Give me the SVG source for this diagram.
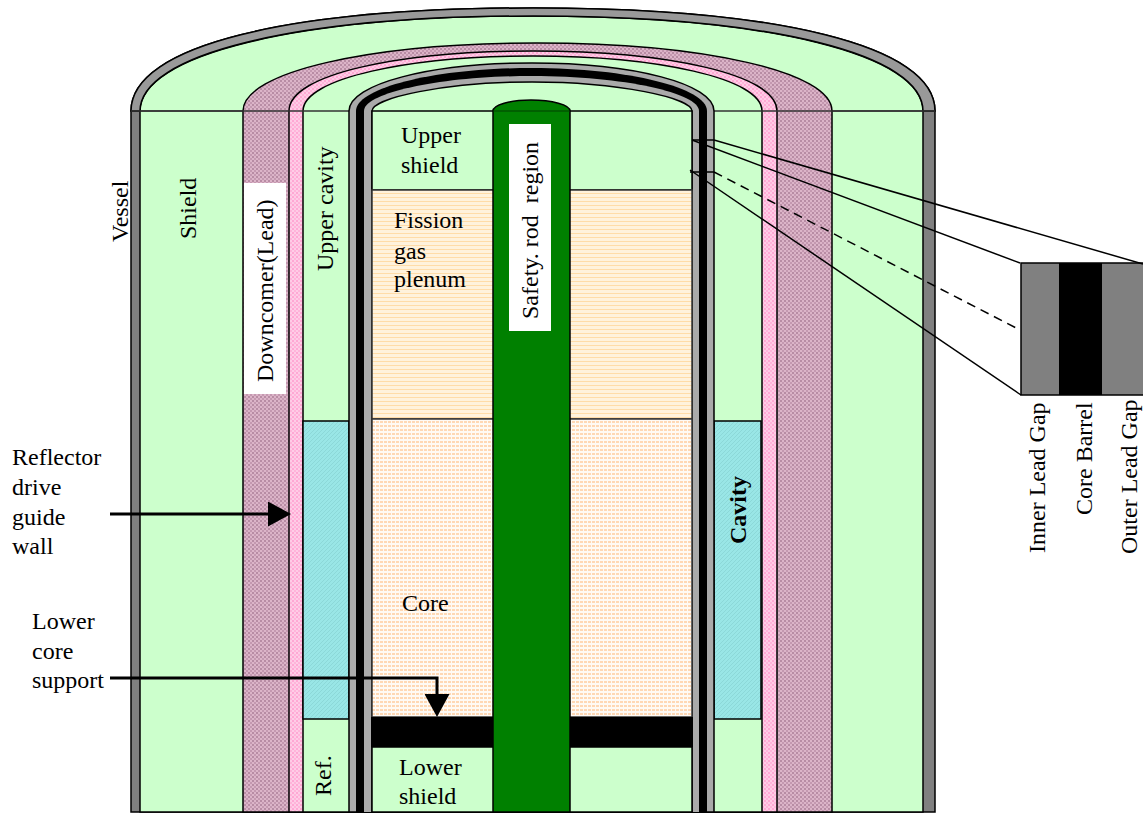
<svg xmlns="http://www.w3.org/2000/svg" width="1143" height="825" viewBox="0 0 1143 825">
<style>
text{font-family:"Liberation Serif","Times New Roman",serif;font-size:24px;fill:#000}
.s{stroke:#000;stroke-width:1.5}
.t{stroke:#333;stroke-width:1.5}
.l{stroke:#000;stroke-width:1.5;fill:none}
.ar{stroke:#000;stroke-width:3;fill:none}
</style>
<defs>
<pattern id="purple" width="4" height="4" patternUnits="userSpaceOnUse"><rect width="4" height="4" fill="#dcb4c8"/><rect width="2" height="2" fill="#b88ca4"/><rect x="2" y="2" width="2" height="2" fill="#c498b0"/></pattern>
<pattern id="pink" width="4" height="4" patternUnits="userSpaceOnUse"><rect width="4" height="4" fill="#ffcce6"/><rect width="2" height="2" fill="#ffa8d4"/><rect x="2" y="2" width="2" height="2" fill="#ffb4da"/></pattern>
<pattern id="plenum" width="4" height="4" patternUnits="userSpaceOnUse"><rect width="4" height="4" fill="#fff2dc"/><rect y="1" width="4" height="1" fill="#ffdca8"/></pattern>
<pattern id="core" width="4" height="4" patternUnits="userSpaceOnUse"><rect width="4" height="4" fill="#fffaf4"/><rect y="1" width="3" height="2" fill="#ffd8b4"/></pattern>
<pattern id="cyan" width="4" height="4" patternUnits="userSpaceOnUse"><rect width="4" height="4" fill="#99e6e6"/><path d="M0 4L4 0" stroke="#8cd8d8" stroke-width="1"/></pattern>
<marker id="head" markerUnits="userSpaceOnUse" markerWidth="24" markerHeight="25" refX="0" refY="12.5" orient="auto"><path d="M0 0L23 12.5L0 25Z" fill="#000"/></marker>
</defs>
<g id="vessel">
<path class="s" fill="#808080" d="M131 111C131 45 290 8 533 8S935 45 935 111V812H131Z"/>
<path class="s" fill="#ccffcc" d="M140 111C140 55 295 16 533 16S923 55 923 111V812H140Z"/>
<path d="M131 111H935" class="t" fill="none"/>
<path fill="#999" stroke="#000" stroke-width="1.5" d="M131 111C131 45 290 8 533 8S935 45 935 111H923C923 55 775 16 533 16S140 55 140 111Z"/>
</g>
<g id="downcomer">
<path class="s" fill="url(#purple)" d="M243 111C243 72 370 43 537 43S832 72 832 111V812H243Z"/>
</g>
<g id="guide-wall">
<path class="s" fill="url(#pink)" d="M289 111C289 74 400 51 533 51S777 74 777 111V812H289Z"/>
</g>
<g id="cavity-region">
<path class="s" fill="#ccffcc" d="M303 111C303 78 410 56 533 56S762 78 762 111V812H303Z"/>
<rect class="s" fill="url(#cyan)" x="303" y="421" width="46" height="298"/>
<rect class="s" fill="url(#cyan)" x="714" y="421" width="47" height="298"/>
<path class="t" d="M131 111H935" fill="none"/>
</g>
<g id="barrel">
<path class="s" fill="#aaa" d="M349 111C349 84 430 63 532 63S714 84 714 111V812H349Z"/>
<path fill="#000" d="M356 111C356 88 435 68 532 68S707 88 707 111V812H356Z"/>
<path fill="#aaa" d="M364 111C364 93 440 76 532 76S699 93 699 111V812H364Z"/>
<path class="s" fill="#ccffcc" d="M372 111C372 98 445 82 532 82S692 98 692 111V812H372Z"/>
</g>
<g id="interior">
<rect class="s" fill="#ccffcc" x="372" y="111" width="320" height="79"/>
<rect class="t" fill="url(#plenum)" x="372" y="190" width="320" height="229"/>
<rect class="t" fill="url(#core)" x="372" y="419" width="320" height="298"/>
<rect fill="#000" x="371" y="717" width="322" height="30"/>
<rect class="s" fill="#ccffcc" x="372" y="747" width="320" height="65"/>
</g>
<g id="safety-rod">
<path class="s" fill="#008000" d="M493 111C493 105 510 100 531 100S570 105 570 111V812H493Z"/>
<path d="M493 111H570" stroke="#004000" stroke-width="1"/>
<rect fill="#fff" x="509" y="124" width="42" height="207"/>
<text transform="translate(538 319) rotate(-90)" xml:space="preserve">Safety. rod  region</text>
</g>
<g id="labels">
<rect fill="#fff" x="244" y="183" width="42" height="211"/>
<text transform="translate(128 242) rotate(-90)">Vessel</text>
<text transform="translate(196 239) rotate(-90)">Shield</text>
<text transform="translate(273 382) rotate(-90)">Downcomer(Lead)</text>
<text transform="translate(333 271) rotate(-90)">Upper cavity</text>
<text transform="translate(331 796) rotate(-90)">Ref.</text>
<text transform="translate(746 544) rotate(-90)" style="font-weight:700">Cavity</text>
<text x="401" y="143">Upper</text>
<text x="401" y="173">shield</text>
<text x="394" y="228">Fission</text>
<text x="394" y="259">gas</text>
<text x="394" y="287">plenum</text>
<text x="402" y="611">Core</text>
<text x="399" y="775">Lower</text>
<text x="399" y="804">shield</text>
<text x="12" y="465">Reflector</text>
<text x="12" y="495">drive</text>
<text x="12" y="525">guide</text>
<text x="12" y="554">wall</text>
<text x="32" y="629">Lower</text>
<text x="32" y="659">core</text>
<text x="32" y="688">support</text>
</g>
<g id="inset">
<rect fill="#808080" x="1021" y="263" width="122" height="132"/>
<rect fill="#000" x="1059" y="263" width="43" height="132"/>
<path d="M1143 263H1021V395H1143" class="l"/>
<text transform="translate(1045 553) rotate(-90)">Inner Lead Gap</text>
<text transform="translate(1092 515) rotate(-90)">Core Barrel</text>
<text transform="translate(1137 554) rotate(-90)">Outer Lead Gap</text>
</g>
<g id="connectors">
<path class="l" d="M692 140H714M690 172H714"/>
<path class="l" d="M714 140L1143 264"/>
<path class="l" d="M692 140L1020 263"/>
<path class="l" d="M714 172L1020 330" stroke-dasharray="9 6"/>
<path class="l" d="M690 170L1021 395"/>
<path class="ar" d="M110 514H268" marker-end="url(#head)"/>
<path class="ar" d="M110 678H437V694" marker-end="url(#head)"/>
</g>
</svg>
